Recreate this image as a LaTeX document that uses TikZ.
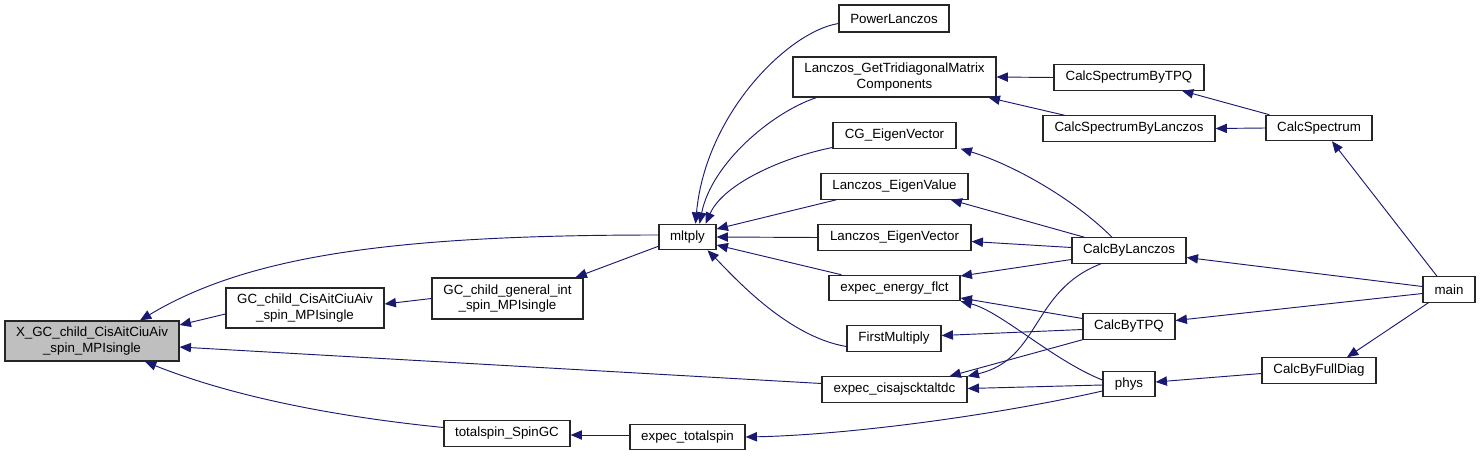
\documentclass[tikz,border=0pt]{standalone}
\usepackage{fontspec}
\setmainfont{Liberation Sans}
\usetikzlibrary{arrows.meta,calc}
\definecolor{edgec}{HTML}{191970}
\definecolor{boxgray}{HTML}{BFBFBF}
\tikzset{
  fn/.style={draw=black!85, line width=0.9pt, fill=white, inner sep=0pt, align=center,
     font=\fontsize{10}{11.5}\selectfont, minimum height=19pt},
  call/.style={draw=edgec, line width=0.7pt, -{Triangle[length=8.5pt,width=7pt]}, edgec, fill=none},
}
\begin{document}
\begin{tikzpicture}[x=0.75pt,y=-0.75pt]
\useasboundingbox (0,0) rectangle (1480,456);
% nodes
\node[fn, fill=boxgray, minimum width=130.5pt, minimum height=30pt] (X) at (92,341) {X\_GC\_child\_CisAitCiuAiv\\\_spin\_MPIsingle};
\node[fn, minimum width=118.5pt, minimum height=30pt] (GCc) at (305,308) {GC\_child\_CisAitCiuAiv\\\_spin\_MPIsingle};
\node[fn, minimum width=113.25pt, minimum height=30.75pt] (GCg) at (507.5,298.5) {GC\_child\_general\_int\\\_spin\_MPIsingle};
\node[fn, minimum width=42.75pt] (mltply) at (687.5,237) {mltply};
\node[fn, minimum width=94.5pt] (tsGC) at (507,433.5) {totalspin\_SpinGC};
\node[fn, minimum width=86.25pt] (ets) at (687.5,437) {expec\_totalspin};
\node[fn, minimum width=82.5pt, minimum height=20.25pt] (PL) at (894,18.5) {PowerLanczos};
\node[fn, minimum width=152.25pt, minimum height=30pt] (LGT) at (894.5,77) {Lanczos\_GetTridiagonalMatrix\\Components};
\node[fn, minimum width=112.5pt] (CSTPQ) at (1129,77.5) {CalcSpectrumByTPQ};
\node[fn, minimum width=129pt] (CSL) at (1129,128.5) {CalcSpectrumByLanczos};
\node[fn, minimum width=92.25pt] (CGE) at (894.5,135.5) {CG\_EigenVector};
\node[fn, minimum width=110.25pt] (LEV) at (894.5,186.5) {Lanczos\_EigenValue};
\node[fn, minimum width=114.75pt] (LEVec) at (894.5,237.5) {Lanczos\_EigenVector};
\node[fn, minimum width=98.25pt] (eef) at (894.5,288) {expec\_energy\_flct};
\node[fn, minimum width=70.5pt] (FM) at (894,338.5) {FirstMultiply};
\node[fn, minimum width=108.75pt] (ecis) at (894.5,389.5) {expec\_cisajscktaltdc};
\node[fn, minimum width=85.5pt] (CBL) at (1129,250.5) {CalcByLanczos};
\node[fn, minimum width=69pt] (CBT) at (1129,326.5) {CalcByTPQ};
\node[fn, minimum width=39pt] (phys) at (1129,384) {phys};
\node[fn, minimum width=79.5pt] (CS) at (1319,128) {CalcSpectrum};
\node[fn, minimum width=39pt] (main) at (1449,289.5) {main};
\node[fn, minimum width=85.5pt] (CBFD) at (1319,370.5) {CalcByFullDiag};
% edges (caller -> callee, arrow at callee)
\draw[call] ($(mltply.west)+(0,-2)$) .. controls +(-259,0) and +(110,-66) .. ($(X.north)+(48,0)$);
\draw[call] ($(GCc.west)+(0,6)$) -- ($(X.east)+(0,-16)$);
\draw[call] ($(ecis.west)+(0,-6)$) -- ($(X.east)+(0,6)$);
\draw[call] ($(tsGC.west)+(0,-6)$) .. controls +(-120,-12) and +(80,32) .. ($(X.south)+(53,0)$);
\draw[call] (GCg.west) -- ($(GCc.east)+(0,-4)$);
\draw[call] ($(mltply.south west)+(0,-4)$) -- ($(GCg.north)+(68,0)$);
\draw[call] ($(PL.west)+(0,5)$) .. controls +(-50,8) and +(10,-110) .. ($(mltply.north)+(8,0)$);
\draw[call] ($(LGT.south west)+(24,0)$) .. controls +(-45,15) and +(12,-60) .. ($(mltply.north)+(12,0)$);
\draw[call] ($(CGE.west)+(0,12)$) .. controls +(-50,10) and +(18,-40) .. ($(mltply.north)+(18,0)$);
\draw[call] ($(LEV.south west)+(16,0)$) -- ($(mltply.east)+(0,-8)$);
\draw[call] (LEVec.west) -- (mltply.east);
\draw[call] ($(eef.north west)+(13,0)$) -- ($(mltply.east)+(0,8)$);
\draw[call] ($(FM.west)+(0,8)$) .. controls +(-60,-10) and +(25,25) .. ($(mltply.south)+(20,0)$);
\draw[call] (CSTPQ.west) -- (LGT.east);
\draw[call] ($(CSL.north west)+(22,0)$) -- ($(LGT.south east)+(-8,0)$);
\draw[call] ($(CS.north west)+(4,0)$) -- ($(CSTPQ.south)+(53,0)$);
\draw[call] (CS.west) -- (CSL.east);
\draw[call] ($(main.north)+(-12,0)$) -- ($(CS.south)+(13,0)$);
\draw[call] ($(CBL.north)+(-17,0)$) .. controls +(-40,-40) and +(50,15) .. ($(CGE.south east)+(4,0)$);
\draw[call] ($(CBL.north west)+(13,0)$) -- ($(LEV.south east)+(-18,0)$);
\draw[call] ($(CBL.west)+(0,-3)$) -- ($(LEVec.east)+(0,4)$);
\draw[call] ($(CBL.west)+(0,9)$) -- ($(eef.east)+(0,-12)$);
\draw[call] ($(CBL.south)+(-28,0)$) .. controls +(-70,27) and +(73,-17) .. (ecis.north east);
\draw[call] ($(CBT.west)+(0,-8)$) -- ($(eef.east)+(0,10)$);
\draw[call] ($(CBT.west)+(0,3)$) -- ($(FM.east)+(0,-3)$);
\draw[call] (CBT.south west) -- ($(ecis.north)+(55,0)$);
\draw[call] ($(phys.west)+(0,-4)$) .. controls +(-50,-20) and +(40,10) .. (eef.south east);
\draw[call] ($(phys.west)+(0,1)$) -- ($(ecis.east)+(0,-1)$);
\draw[call] ($(phys.west)+(0,7)$) .. controls +(-110,25) and +(100,-2) .. (ets.east);
\draw[call] ($(ets.west)+(0,-2)$) -- ($(tsGC.east)+(0,1.5)$);
\draw[call] ($(main.west)+(0,-3)$) -- ($(CBL.east)+(0,7)$);
\draw[call] ($(main.west)+(0,4)$) -- ($(CBT.east)+(0,-6)$);
\draw[call] ($(main.south west)+(6,0)$) -- ($(CBFD.north)+(28,0)$);
\draw[call] ($(CBFD.west)+(0,3)$) -- ($(phys.east)+(0,-2)$);
\end{tikzpicture}
\end{document}
